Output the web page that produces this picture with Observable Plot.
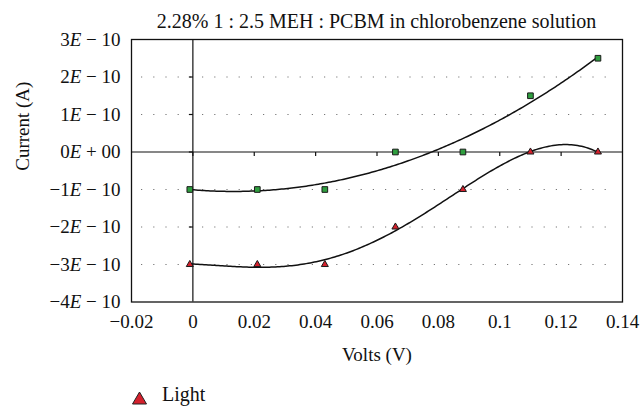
<!DOCTYPE html>
<html>
<head>
<meta charset="utf-8">
<script src="https://cdn.jsdelivr.net/npm/d3@7"></script>
<script src="https://cdn.jsdelivr.net/npm/@observablehq/plot@0.6"></script>
<style>
  html, body { margin: 0; padding: 0; background: #fff; }
  body { width: 642px; height: 406px; overflow: hidden; }
  #title { height: 18px; padding-top: 12px; padding-left: 131px; padding-right: 20px; font-size: 20px; line-height: 18px; text-align: center; color: #111; white-space: nowrap; }
  #legend { height: 34px; position: relative; }
  #legend svg { position: absolute; left: 131px; top: 19px; }
  #legend span { position: absolute; left: 162px; top: 11px; font-size: 20px; color: #111; }
</style>
</head>
<body>
<div id="title" style="font-family:'Liberation Serif'">2.28% 1 : 2.5 MEH : PCBM in chlorobenzene solution</div>
<div id="chart"></div>
<div id="legend"><svg width="17" height="15"><polygon points="8.5,1 15.5,13 1.5,13" fill="#d4202c" stroke="#222" stroke-width="1"/></svg><span style="font-family:'Liberation Serif'">Light</span></div>
<script>
// Data (current in amps)
const volts = [-0.001, 0.021, 0.043, 0.066, 0.088, 0.110, 0.132];
const darkCurrent  = [-1e-10, -1e-10, -1e-10, 0, 0, 1.5e-10, 2.5e-10];
const lightCurrent = [-3e-10, -3e-10, -3e-10, -2e-10, -1e-10, 0, 0];
const xTicks = [-0.02, 0, 0.02, 0.04, 0.06, 0.08, 0.1, 0.12, 0.14];
const yTicks = [-4e-10, -3e-10, -2e-10, -1e-10, 0, 1e-10, 2e-10, 3e-10];
const xLabel = "Volts (V)";
const yLabel = "Current (A)";

// Polynomial least-squares trendline, like a spreadsheet trendline
function polyFit(xs, ys, order) {
  const n = order + 1;
  const A = Array.from({length: n}, () => new Array(n + 1).fill(0));
  xs.forEach((x, k) => {
    const y = ys[k] * 1e10;
    for (let i = 0; i < n; i++) {
      for (let j = 0; j < n; j++) A[i][j] += Math.pow(x, i + j);
      A[i][n] += y * Math.pow(x, i);
    }
  });
  for (let c = 0; c < n; c++) {
    let p = c;
    for (let r = c + 1; r < n; r++) if (Math.abs(A[r][c]) > Math.abs(A[p][c])) p = r;
    [A[c], A[p]] = [A[p], A[c]];
    for (let r = 0; r < n; r++) {
      if (r === c) continue;
      const f = A[r][c] / A[c][c];
      for (let k = c; k <= n; k++) A[r][k] -= f * A[c][k];
    }
  }
  const coef = A.map((row, i) => row[n] / row[i]);
  return x => coef.reduce((s, a, i) => s + a * Math.pow(x, i), 0) * 1e-10;
}
function trend(ys, order) {
  const f = polyFit(volts, ys, order);
  const x0 = d3.min(volts), x1 = d3.max(volts);
  return d3.range(0, 201).map(i => { const x = x0 + (x1 - x0) * i / 200; return {x, y: f(x)}; });
}
const darkPts = volts.map((v, i) => ({x: v, y: darkCurrent[i]}));
const lightPts = volts.map((v, i) => ({x: v, y: lightCurrent[i]}));

const tickDown = {draw(c) { c.moveTo(0, 0); c.lineTo(0, 4); }};
const tickLeft = {draw(c) { c.moveTo(0, 0); c.lineTo(-4, 0); }};

function yFmt(v) {
  const k = Math.round(v / 1e-10);
  return k === 0 ? "0E + 00" : (k < 0 ? "\u2212" + (-k) : k) + "E \u2212 10";
}

const serif = "Liberation Serif";
const chart = Plot.plot({
  width: 642,
  height: 342,
  marginTop: 9,
  marginBottom: 70.5,
  marginLeft: 131,
  marginRight: 20,
  style: {fontFamily: serif, fontSize: "19px", color: "#111", background: "#fff"},
  x: {domain: [-0.02, 0.14], ticks: xTicks, tickSize: 0, tickPadding: 12,
      tickFormat: d => (d < 0 ? "\u2212" + (-d) : String(d)), label: null},
  y: {domain: [-4e-10, 3e-10], ticks: yTicks, tickSize: 0, tickPadding: 11,
      tickFormat: yFmt, label: null},
  marks: [
    Plot.ruleY(yTicks.filter(t => t > -4e-10 && t < 3e-10 && t !== 0), {stroke: "#777", strokeDasharray: "1.2,11", strokeWidth: 1.2, insetLeft: 10, insetRight: 8}),
    Plot.frame({stroke: "#111", strokeWidth: 1.3}),
    Plot.ruleX([0], {stroke: "#111", strokeWidth: 1.2}),
    Plot.ruleY([0], {stroke: "#111", strokeWidth: 1.2}),
    Plot.dot(xTicks.filter(t => t > -0.02 && t < 0.14), {x: d => d, y: () => 0, symbol: tickDown, stroke: "#111", fill: "none", strokeWidth: 1.2}),
    Plot.dot(yTicks.filter(t => t > -4e-10 && t < 3e-10), {x: () => 0, y: d => d, symbol: tickLeft, stroke: "#111", fill: "none", strokeWidth: 1.2}),
    Plot.line(trend(darkCurrent, 4), {x: "x", y: "y", stroke: "#111", strokeWidth: 1.5}),
    Plot.line(trend(lightCurrent, 4), {x: "x", y: "y", stroke: "#111", strokeWidth: 1.5}),
    Plot.dot(darkPts, {x: "x", y: "y", symbol: "square", r: 3.2, fill: "#2f9e3f", stroke: "#1a1a1a", strokeWidth: 1}),
    Plot.dot(lightPts, {x: "x", y: "y", symbol: "triangle", r: 2.6, fill: "#d4202c", stroke: "#1a1a1a", strokeWidth: 1}),
    Plot.text([xLabel], {frameAnchor: "bottom", dy: 59, fontSize: 19, fontFamily: serif, fill: "#111"}),
    Plot.text([yLabel], {frameAnchor: "left", dx: -109, rotate: -90, fontSize: 19, fontFamily: serif, fill: "#111"})
  ]
});

// Italic "E" in the y tick labels
d3.select(chart).selectAll("g[aria-label='y-axis tick label'] text").each(function() {
  const t = this.textContent;
  const i = t.indexOf("E");
  if (i < 0) return;
  const el = d3.select(this);
  el.text(null);
  el.append("tspan").text(t.slice(0, i));
  el.append("tspan").attr("font-style", "italic").text("E");
  el.append("tspan").text(t.slice(i + 1));
});

document.getElementById("chart").appendChild(chart);
</script>
</body>
</html>
